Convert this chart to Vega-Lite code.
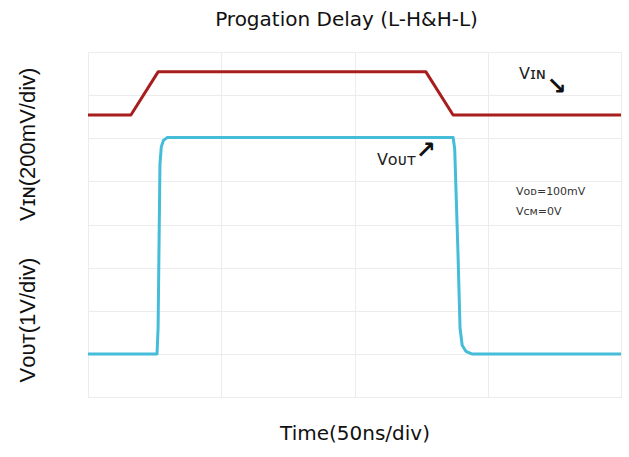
{
  "$schema": "https://vega.github.io/schema/vega-lite/v6.json",
  "width": 533,
  "height": 345,
  "autosize": "none",
  "padding": {"left": 88, "top": 52, "right": 8, "bottom": 60},
  "background": "white",
  "config": {
    "view": {"stroke": "#e2e2e2", "strokeWidth": 1},
    "font": "Liberation Sans"
  },
  "title": {
    "text": "Progation Delay (L-H&H-L)",
    "font": "DejaVu Sans",
    "fontSize": 20,
    "fontWeight": "normal",
    "color": "#111111",
    "offset": 22,
    "dx": -8,
    "anchor": "middle"
  },
  "datasets": {
    "waves": [
      {"series": "VIN", "t": 0, "v": 6.54},
      {"series": "VIN", "t": 16.1, "v": 6.54},
      {"series": "VIN", "t": 26.3, "v": 7.54},
      {"series": "VIN", "t": 126.8, "v": 7.54},
      {"series": "VIN", "t": 137.0, "v": 6.54},
      {"series": "VIN", "t": 200, "v": 6.54},
      {"series": "VOUT", "t": 0, "v": 1.0},
      {"series": "VOUT", "t": 25.9, "v": 1.0},
      {"series": "VOUT", "t": 26.3, "v": 1.6},
      {"series": "VOUT", "t": 27.0, "v": 5.4},
      {"series": "VOUT", "t": 27.5, "v": 5.8},
      {"series": "VOUT", "t": 28.3, "v": 5.95},
      {"series": "VOUT", "t": 29.8, "v": 6.02},
      {"series": "VOUT", "t": 137.0, "v": 6.02},
      {"series": "VOUT", "t": 137.6, "v": 5.75},
      {"series": "VOUT", "t": 138.8, "v": 3.4},
      {"series": "VOUT", "t": 139.6, "v": 1.6},
      {"series": "VOUT", "t": 140.4, "v": 1.2},
      {"series": "VOUT", "t": 141.8, "v": 1.06},
      {"series": "VOUT", "t": 144.0, "v": 1.0},
      {"series": "VOUT", "t": 200, "v": 1.0}
    ],
    "notes": [
      {"kind": "name", "label": "Vɪɴ", "t": 161.7, "v": 7.49},
      {"kind": "arrow", "label": "↘", "t": 172.0, "v": 7.2},
      {"kind": "name", "label": "Vᴏᴜᴛ", "t": 108.4, "v": 5.5},
      {"kind": "arrow", "label": "↗", "t": 123.0, "v": 5.7},
      {"kind": "cond", "label": "Vᴏᴅ=100mV", "t": 160.6, "v": 4.75},
      {"kind": "cond", "label": "Vᴄᴍ=0V", "t": 160.6, "v": 4.29}
    ]
  },
  "encoding": {
    "x": {
      "field": "t",
      "type": "quantitative",
      "scale": {"domain": [0, 200], "nice": false, "zero": false},
      "axis": {
        "title": "Time(50ns/div)",
        "values": [0, 50, 100, 150, 200],
        "labels": false,
        "ticks": false,
        "domain": false,
        "grid": true,
        "gridColor": "#ececec",
        "titleFont": "DejaVu Sans",
        "titleFontSize": 20,
        "titleFontWeight": "normal",
        "titleColor": "#111111",
        "titlePadding": 26
      }
    },
    "y": {
      "field": "v",
      "type": "quantitative",
      "scale": {"domain": [0, 8], "nice": false, "zero": false},
      "axis": {
        "title": "Vᴏᴜᴛ(1V/div)\u00a0\u00a0\u00a0\u00a0\u00a0\u00a0Vɪɴ(200mV/div)",
        "values": [0, 1, 2, 3, 4, 5, 6, 7, 8],
        "labels": false,
        "ticks": false,
        "domain": false,
        "grid": true,
        "gridColor": "#ececec",
        "titleFontSize": 22,
        "titleFontWeight": "normal",
        "titleColor": "#111111",
        "titlePadding": 49
      }
    }
  },
  "layer": [
    {
      "data": {"name": "waves"},
      "mark": {"type": "line", "strokeWidth": 3, "strokeJoin": "round", "strokeCap": "butt"},
      "encoding": {
        "color": {
          "field": "series",
          "type": "nominal",
          "scale": {"domain": ["VIN", "VOUT"], "range": ["#a81d1d", "#45bcd8"]},
          "legend": null
        }
      }
    },
    {
      "data": {"name": "notes"},
      "transform": [{"filter": "datum.kind === 'name'"}],
      "mark": {"type": "text", "align": "left", "baseline": "middle", "fontSize": 16, "color": "#222222", "font": "DejaVu Sans"},
      "encoding": {"text": {"field": "label"}}
    },
    {
      "data": {"name": "notes"},
      "transform": [{"filter": "datum.kind === 'arrow'"}],
      "mark": {"type": "text", "align": "left", "baseline": "middle", "fontSize": 24, "fontWeight": "bold", "color": "#111111", "font": "DejaVu Sans"},
      "encoding": {"text": {"field": "label"}}
    },
    {
      "data": {"name": "notes"},
      "transform": [{"filter": "datum.kind === 'cond'"}],
      "mark": {"type": "text", "align": "left", "baseline": "middle", "fontSize": 11, "color": "#333333", "font": "DejaVu Sans"},
      "encoding": {"text": {"field": "label"}}
    }
  ]
}
